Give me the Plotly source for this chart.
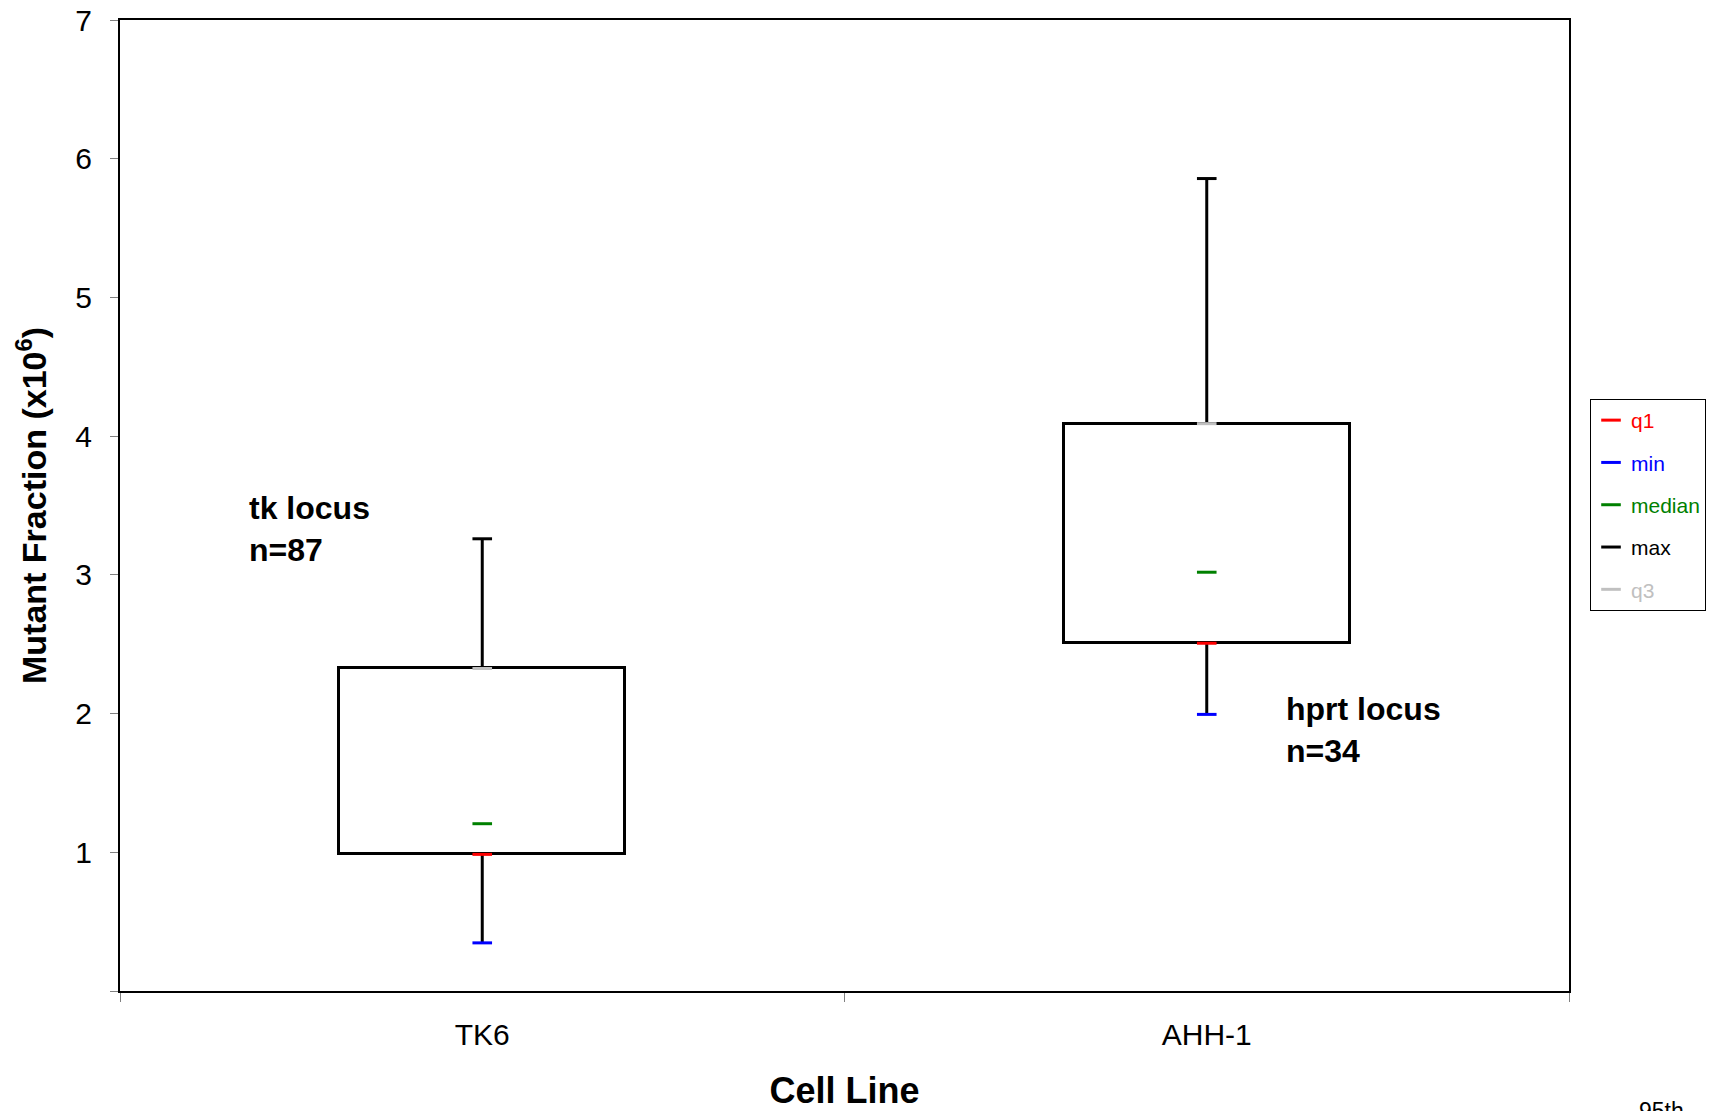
import plotly.graph_objs as go

cell_lines = ['TK6', 'AHH-1']
q1_vals = [0.985, 2.507]
min_vals = [0.347, 1.994]
median_vals = [1.206, 3.019]
max_vals = [3.26, 5.857]
q3_vals = [2.325, 4.09]

y_tickvals = [0, 1, 2, 3, 4, 5, 6, 7]
y_ticktext = ['', '1', '2', '3', '4', '5', '6', '7']

font_family = 'Liberation Sans, Arial, sans-serif'

fig = go.Figure()

# box body: q1 -> q3
fig.add_trace(
    go.Bar(
        x=cell_lines,
        y=[q3 - q1 for q1, q3 in zip(q1_vals, q3_vals)],
        base=q1_vals,
        width=0.395,
        marker=dict(color='white', line=dict(color='black', width=3)),
        showlegend=False,
        hoverinfo='skip',
    )
)

def stat_trace(name, vals, color, err=None):
    kw = {}
    if err is not None:
        kw['error_y'] = err
    return go.Scatter(
        x=cell_lines,
        y=vals,
        mode='markers',
        name=f'<span style="color:{color}">{name}</span>',
        legendgroup=name,
        marker=dict(symbol='line-ew', size=14, line=dict(color=color, width=3)),
        **kw,
    )

# lower whisker hangs off q1, upper whisker off q3
fig.add_trace(stat_trace('q1', q1_vals, 'red', dict(
    type='data', symmetric=False,
    array=[0, 0],
    arrayminus=[q1 - mn for q1, mn in zip(q1_vals, min_vals)],
    color='black', thickness=3, width=0)))
fig.add_trace(stat_trace('min', min_vals, 'blue'))
fig.add_trace(stat_trace('median', median_vals, 'green'))
fig.add_trace(stat_trace('max', max_vals, 'black'))
fig.add_trace(stat_trace('q3', q3_vals, '#c0c0c0', dict(
    type='data', symmetric=False,
    array=[mx - q3 for q3, mx in zip(q3_vals, max_vals)],
    arrayminus=[0, 0],
    color='black', thickness=3, width=0)))

fig.add_annotation(
    x=-0.325, y=3.33, xref='x', yref='y',
    text='<b>tk locus<br>n=87</b>',
    showarrow=False, xanchor='left', align='left',
    font=dict(size=32, color='black', family=font_family),
)
fig.add_annotation(
    x=1.106, y=1.88, xref='x', yref='y',
    text='<b>hprt locus<br>n=34</b>',
    showarrow=False, xanchor='left', align='left',
    font=dict(size=32, color='black', family=font_family),
)
fig.add_annotation(
    x=1.0635, y=-0.108, xref='paper', yref='paper',
    text='95th',
    showarrow=False, xanchor='center', yanchor='top',
    font=dict(size=23, color='black', family=font_family),
)

fig.update_layout(
    width=1716,
    height=1111,
    margin=dict(l=112, r=155, t=12, b=127.5),
    plot_bgcolor='white',
    paper_bgcolor='white',
    font=dict(family=font_family, color='black'),
    bargap=0,
    xaxis=dict(
        type='category',
        range=[-0.5, 1.5],
        tickson='boundaries',
        ticks='outside',
        ticklen=9,
        tickcolor='#808080',
        tickwidth=1,
        showline=True,
        linecolor='black',
        linewidth=2,
        mirror=True,
        showgrid=False,
        tickfont=dict(size=30),
        ticklabelstandoff=16,
        title=dict(text='<b>Cell Line</b>', font=dict(size=36), standoff=28),
        automargin=False,
        fixedrange=True,
    ),
    yaxis=dict(
        range=[0, 7],
        tickvals=y_tickvals,
        ticktext=y_ticktext,
        ticks='outside',
        ticklen=8,
        tickcolor='#808080',
        tickwidth=1,
        showline=True,
        linecolor='black',
        linewidth=2,
        mirror=True,
        showgrid=False,
        zeroline=False,
        tickfont=dict(size=30),
        ticklabelstandoff=12,
        ticklabeloverflow='allow',
        title=dict(text='<b>Mutant Fraction (x10<sup>6</sup>)</b>', font=dict(size=34), standoff=18),
        automargin=False,
        fixedrange=True,
    ),
    legend=dict(
        x=1.0145,
        y=0.6097,
        xanchor='left',
        yanchor='top',
        bgcolor='white',
        bordercolor='black',
        borderwidth=1,
        font=dict(size=21),
        tracegroupgap=12,
        itemwidth=30,
    ),
)

fig.write_html("out.html")
